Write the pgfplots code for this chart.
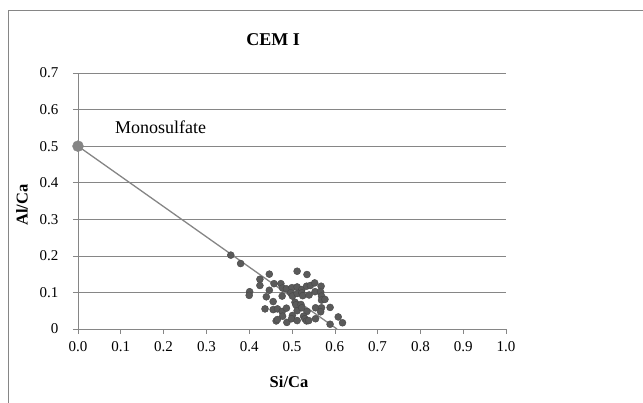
\documentclass[border=0pt]{standalone}
\usepackage{fontspec}
\setmainfont{Liberation Serif}
\usepackage{pgfplots}
\pgfplotsset{compat=1.18}
\definecolor{gridgray}{HTML}{868686}
\definecolor{dotgray}{HTML}{5A5A5A}
\definecolor{linegray}{HTML}{858585}

\pgfplotstableread{
x y
0.357 0.202
0.380 0.179
0.447 0.150
0.512 0.158
0.535 0.149
0.425 0.136
0.425 0.119
0.458 0.124
0.474 0.124
0.478 0.112
0.487 0.110
0.500 0.113
0.512 0.115
0.523 0.108
0.534 0.117
0.543 0.119
0.553 0.126
0.568 0.117
0.401 0.102
0.400 0.092
0.447 0.106
0.440 0.088
0.477 0.090
0.497 0.099
0.501 0.090
0.512 0.097
0.523 0.099
0.525 0.091
0.540 0.093
0.554 0.102
0.567 0.101
0.569 0.090
0.569 0.079
0.577 0.081
0.456 0.075
0.507 0.073
0.509 0.066
0.521 0.067
0.437 0.055
0.456 0.053
0.466 0.055
0.477 0.048
0.487 0.057
0.512 0.050
0.523 0.058
0.535 0.048
0.555 0.058
0.569 0.058
0.567 0.047
0.589 0.059
0.478 0.035
0.501 0.037
0.527 0.035
0.463 0.022
0.466 0.026
0.488 0.018
0.499 0.028
0.512 0.023
0.530 0.028
0.534 0.022
0.539 0.023
0.555 0.028
0.589 0.013
0.608 0.033
0.618 0.017
}\cemdata

\begin{document}
\begin{tikzpicture}
\useasboundingbox (-78pt,-74pt) rectangle (565pt,329pt);
\draw[gridgray, line width=0.8pt] (-70pt,-74pt) -- (-70pt,319pt) -- (565pt,319pt);
\begin{axis}[
  scale only axis,
  width=428pt, height=256pt,
  xmin=0, xmax=1, ymin=0, ymax=0.7,
  axis x line=bottom, axis y line=left,
  axis line style={-, gridgray, line width=0.6pt},
  xtick={0,0.1,...,1.0},
  ytick={0,0.1,...,0.7},
  xticklabels={0.0,0.1,0.2,0.3,0.4,0.5,0.6,0.7,0.8,0.9,1.0},
  yticklabels={0,0.1,0.2,0.3,0.4,0.5,0.6,0.7},
  tick align=outside,
  major tick length=5pt,
  tick style={gridgray, line width=0.6pt},
  ymajorgrids,
  major grid style={gridgray, line width=0.6pt},
  tick label style={font=\fontsize{15}{17}\selectfont, black},
  xticklabel style={yshift=-4pt},
  yticklabel style={xshift=-11pt},
  xlabel={\textbf{Si/Ca}},
  ylabel={\textbf{Al/Ca}},
  label style={font=\fontsize{16.5}{19}\selectfont},
  xlabel style={at={(axis description cs:0.493,-0.207)}, anchor=center},
  ylabel style={at={(axis description cs:-0.131,0.484)}, anchor=center},
  title={\textbf{CEM I}},
  title style={font=\fontsize{18}{21}\selectfont, at={(axis description cs:0.456,1.108)}, anchor=center},
  clip=false,
]
\addplot[linegray, line width=1.3pt] coordinates {(0,0.5) (0.605,0)};
\addplot[only marks, mark=*, mark size=5.5pt, mark options={fill=linegray, draw=linegray}] coordinates {(0,0.5)};
\addplot[only marks, mark=*, mark size=3.5pt, mark options={fill=dotgray, draw=dotgray!80!black, line width=0.4pt}] table[x=x, y=y] {\cemdata};
\node[anchor=west, font=\fontsize{18}{21}\selectfont, inner sep=0pt] at (axis cs:0.086,0.552) {Monosulfate};
\end{axis}
\end{tikzpicture}
\end{document}
